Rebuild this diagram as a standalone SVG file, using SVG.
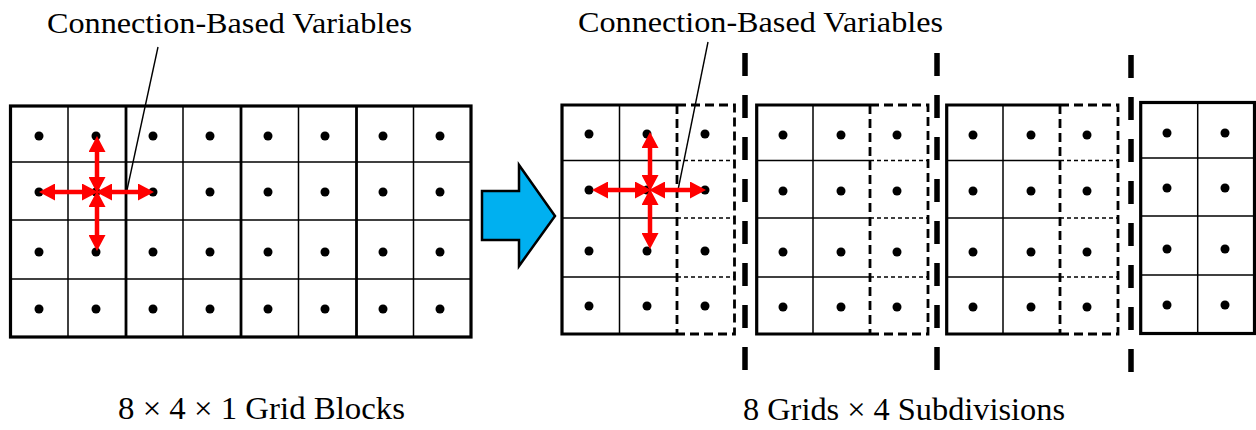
<svg xmlns="http://www.w3.org/2000/svg" width="1256" height="430" viewBox="0 0 1256 430">
  <style>
    .label { font-family: "Liberation Serif", "Times New Roman", serif; fill: #000; }
    .thin { stroke: #000; stroke-width: 1.5; fill: none; }
    .block { stroke: #000; stroke-width: 2.8; fill: none; }
    .outer { stroke: #000; stroke-width: 3.2; fill: none; }
    .dash-thick { stroke: #000; stroke-width: 2.8; fill: none; stroke-dasharray: 9 5; }
    .dash-thin { stroke: #000; stroke-width: 1.4; fill: none; stroke-dasharray: 4 3; }
    .sep { stroke: #000; stroke-width: 5.5; fill: none; stroke-dasharray: 23 19; }
    .dot { fill: #000; }
    .leader { stroke: #000; stroke-width: 1.4; fill: none; }
    .link { stroke: #ff0000; stroke-width: 4.5; fill: none; marker-start: url(#head); marker-end: url(#head); }
  </style>
  <defs>
    <marker id="head" viewBox="0 0 16 17" markerWidth="16" markerHeight="17" refX="10" refY="8.5" markerUnits="userSpaceOnUse" orient="auto-start-reverse">
      <path d="M0,0 L16,8.5 L0,17 z" fill="#ff0000"/>
    </marker>
  </defs>
  <rect width="1256" height="430" fill="#fff"/>

  <!-- 8 x 4 grid of cells grouped into blocks -->
  <g id="grid-blocks">
    <g class="thin">
      <line x1="68" y1="106" x2="68" y2="337"/>
      <line x1="183" y1="106" x2="183" y2="337"/>
      <line x1="298.5" y1="106" x2="298.5" y2="337"/>
      <line x1="413.5" y1="106" x2="413.5" y2="337"/>
      <line x1="10.5" y1="162" x2="471" y2="162"/>
      <line x1="10.5" y1="220" x2="471" y2="220"/>
      <line x1="10.5" y1="279" x2="471" y2="279"/>
    </g>
    <g class="block">
      <line x1="126" y1="106" x2="126" y2="337"/>
      <line x1="241" y1="106" x2="241" y2="337"/>
      <line x1="356.5" y1="106" x2="356.5" y2="337"/>
    </g>
    <rect class="outer" x="10.5" y="106" width="460.5" height="231"/>
    <g class="dot">
      <circle cx="39" cy="136" r="4.5"/><circle cx="96" cy="136" r="4.5"/><circle cx="153" cy="136" r="4.5"/><circle cx="210" cy="136" r="4.5"/>
      <circle cx="268" cy="136" r="4.5"/><circle cx="325" cy="136" r="4.5"/><circle cx="383" cy="136" r="4.5"/><circle cx="440" cy="136" r="4.5"/>
      <circle cx="39" cy="192" r="4.5"/><circle cx="96" cy="192" r="4.5"/><circle cx="153" cy="192" r="4.5"/><circle cx="210" cy="192" r="4.5"/>
      <circle cx="268" cy="192" r="4.5"/><circle cx="325" cy="192" r="4.5"/><circle cx="383" cy="192" r="4.5"/><circle cx="440" cy="192" r="4.5"/>
      <circle cx="39" cy="252" r="4.5"/><circle cx="96" cy="252" r="4.5"/><circle cx="153" cy="252" r="4.5"/><circle cx="210" cy="252" r="4.5"/>
      <circle cx="268" cy="252" r="4.5"/><circle cx="325" cy="252" r="4.5"/><circle cx="383" cy="252" r="4.5"/><circle cx="440" cy="252" r="4.5"/>
      <circle cx="39" cy="309" r="4.5"/><circle cx="96" cy="309" r="4.5"/><circle cx="153" cy="309" r="4.5"/><circle cx="210" cy="309" r="4.5"/>
      <circle cx="268" cy="309" r="4.5"/><circle cx="325" cy="309" r="4.5"/><circle cx="383" cy="309" r="4.5"/><circle cx="440" cy="309" r="4.5"/>
    </g>
  </g>

  <!-- transformation arrow -->
  <g id="transform-arrow">
    <polygon points="482,191 519,191 519,165 555,216 519,266 519,240 482,240" fill="#00b0f0" stroke="#000" stroke-width="2.5" stroke-linejoin="miter"/>
  </g>

  <!-- subdivision 1 -->
  <g id="subdivision-1">
    <g class="thin">
      <line x1="619.5" y1="105" x2="619.5" y2="334"/>
      <line x1="562" y1="160.5" x2="677" y2="160.5"/>
      <line x1="562" y1="218" x2="677" y2="218"/>
      <line x1="562" y1="277" x2="677" y2="277"/>
    </g>
    <g class="dash-thin">
      <line x1="677" y1="160.5" x2="734.5" y2="160.5"/>
      <line x1="677" y1="218" x2="734.5" y2="218"/>
      <line x1="677" y1="277" x2="734.5" y2="277"/>
    </g>
    <polyline class="outer" points="677,105 562,105 562,334 677,334"/>
    <g class="dash-thick">
      <line x1="677" y1="105" x2="677" y2="334"/>
      <polyline points="677,105 734.5,105 734.5,334 677,334"/>
    </g>
    <g class="dot">
      <circle cx="589" cy="134" r="4.5"/><circle cx="647" cy="134" r="4.5"/><circle cx="705" cy="134" r="4.5"/>
      <circle cx="589" cy="190" r="4.5"/><circle cx="647" cy="190" r="4.5"/><circle cx="705" cy="190" r="4.5"/>
      <circle cx="589" cy="251" r="4.5"/><circle cx="647" cy="251" r="4.5"/><circle cx="705" cy="251" r="4.5"/>
      <circle cx="589" cy="306" r="4.5"/><circle cx="647" cy="306" r="4.5"/><circle cx="705" cy="306" r="4.5"/>
    </g>
  </g>

  <!-- subdivision 2 -->
  <g id="subdivision-2">
    <g class="thin">
      <line x1="813" y1="105" x2="813" y2="334"/>
      <line x1="756.7" y1="160.5" x2="870" y2="160.5"/>
      <line x1="756.7" y1="218" x2="870" y2="218"/>
      <line x1="756.7" y1="277" x2="870" y2="277"/>
    </g>
    <g class="dash-thin">
      <line x1="870" y1="160.5" x2="928" y2="160.5"/>
      <line x1="870" y1="218" x2="928" y2="218"/>
      <line x1="870" y1="277" x2="928" y2="277"/>
    </g>
    <polyline class="outer" points="870,105 756.7,105 756.7,334 870,334"/>
    <g class="dash-thick">
      <line x1="870" y1="105" x2="870" y2="334"/>
      <polyline points="870,105 928,105 928,334 870,334"/>
    </g>
    <g class="dot">
      <circle cx="783" cy="135" r="4.5"/><circle cx="841" cy="135" r="4.5"/><circle cx="897" cy="135" r="4.5"/>
      <circle cx="783" cy="191" r="4.5"/><circle cx="841" cy="191" r="4.5"/><circle cx="897" cy="191" r="4.5"/>
      <circle cx="783" cy="252" r="4.5"/><circle cx="841" cy="252" r="4.5"/><circle cx="897" cy="252" r="4.5"/>
      <circle cx="783" cy="307" r="4.5"/><circle cx="841" cy="307" r="4.5"/><circle cx="897" cy="307" r="4.5"/>
    </g>
  </g>

  <!-- subdivision 3 -->
  <g id="subdivision-3">
    <g class="thin">
      <line x1="1003" y1="105" x2="1003" y2="334"/>
      <line x1="946.7" y1="160.5" x2="1060" y2="160.5"/>
      <line x1="946.7" y1="218" x2="1060" y2="218"/>
      <line x1="946.7" y1="277" x2="1060" y2="277"/>
    </g>
    <g class="dash-thin">
      <line x1="1060" y1="160.5" x2="1118" y2="160.5"/>
      <line x1="1060" y1="218" x2="1118" y2="218"/>
      <line x1="1060" y1="277" x2="1118" y2="277"/>
    </g>
    <polyline class="outer" points="1060,105 946.7,105 946.7,334 1060,334"/>
    <g class="dash-thick">
      <line x1="1060" y1="105" x2="1060" y2="334"/>
      <polyline points="1060,105 1118,105 1118,334 1060,334"/>
    </g>
    <g class="dot">
      <circle cx="973" cy="135" r="4.5"/><circle cx="1031" cy="135" r="4.5"/><circle cx="1087" cy="135" r="4.5"/>
      <circle cx="973" cy="191" r="4.5"/><circle cx="1031" cy="191" r="4.5"/><circle cx="1087" cy="191" r="4.5"/>
      <circle cx="973" cy="252" r="4.5"/><circle cx="1031" cy="252" r="4.5"/><circle cx="1087" cy="252" r="4.5"/>
      <circle cx="973" cy="307" r="4.5"/><circle cx="1031" cy="307" r="4.5"/><circle cx="1087" cy="307" r="4.5"/>
    </g>
  </g>

  <!-- subdivision 4 -->
  <g id="subdivision-4">
    <g class="thin">
      <line x1="1197.7" y1="102.5" x2="1197.7" y2="333.5"/>
      <line x1="1140.7" y1="158" x2="1254.5" y2="158"/>
      <line x1="1140.7" y1="216" x2="1254.5" y2="216"/>
      <line x1="1140.7" y1="275" x2="1254.5" y2="275"/>
    </g>
    <rect class="outer" x="1140.7" y="102.5" width="113.8" height="231"/>
    <g class="dot">
      <circle cx="1167" cy="133" r="4.5"/><circle cx="1225" cy="133" r="4.5"/>
      <circle cx="1167" cy="188" r="4.5"/><circle cx="1225" cy="188" r="4.5"/>
      <circle cx="1167" cy="249" r="4.5"/><circle cx="1225" cy="249" r="4.5"/>
      <circle cx="1167" cy="305" r="4.5"/><circle cx="1225" cy="305" r="4.5"/>
    </g>
  </g>

  <!-- partition separators -->
  <g id="separators" class="sep">
    <line x1="745" y1="53" x2="745" y2="370"/>
    <line x1="937" y1="53" x2="937" y2="370"/>
    <line x1="1131" y1="55" x2="1131" y2="372"/>
  </g>

  <!-- labels -->
  <g id="label-left-top">
    <text class="label" x="47" y="33" font-size="30" textLength="365" lengthAdjust="spacingAndGlyphs">Connection-Based Variables</text>
  </g>
  <g id="label-right-top">
    <text class="label" x="578" y="32" font-size="30" textLength="365" lengthAdjust="spacingAndGlyphs">Connection-Based Variables</text>
  </g>
  <g id="label-left-bottom">
    <text class="label" x="118" y="419" font-size="32.5" textLength="287" lengthAdjust="spacingAndGlyphs">8 × 4 × 1 Grid Blocks</text>
  </g>
  <g id="label-right-bottom">
    <text class="label" x="743" y="420" font-size="32.5" textLength="322" lengthAdjust="spacingAndGlyphs">8 Grids × 4 Subdivisions</text>
  </g>

  <!-- connectors: leader lines and neighbour links -->
  <g id="connectors">
    <line class="leader" x1="158" y1="47" x2="127" y2="190"/>
    <line class="leader" x1="708" y1="42" x2="678" y2="190"/>
    <line class="link" x1="92" y1="192" x2="45" y2="192"/>
    <line class="link" x1="102" y1="192" x2="148" y2="192"/>
    <line class="link" x1="97" y1="187" x2="97" y2="142"/>
    <line class="link" x1="97" y1="197" x2="97" y2="245"/>
    <line class="link" x1="645" y1="190" x2="598" y2="190"/>
    <line class="link" x1="655" y1="190" x2="700" y2="190"/>
    <line class="link" x1="650" y1="185" x2="650" y2="138"/>
    <line class="link" x1="650" y1="195" x2="650" y2="243"/>
  </g>
</svg>
